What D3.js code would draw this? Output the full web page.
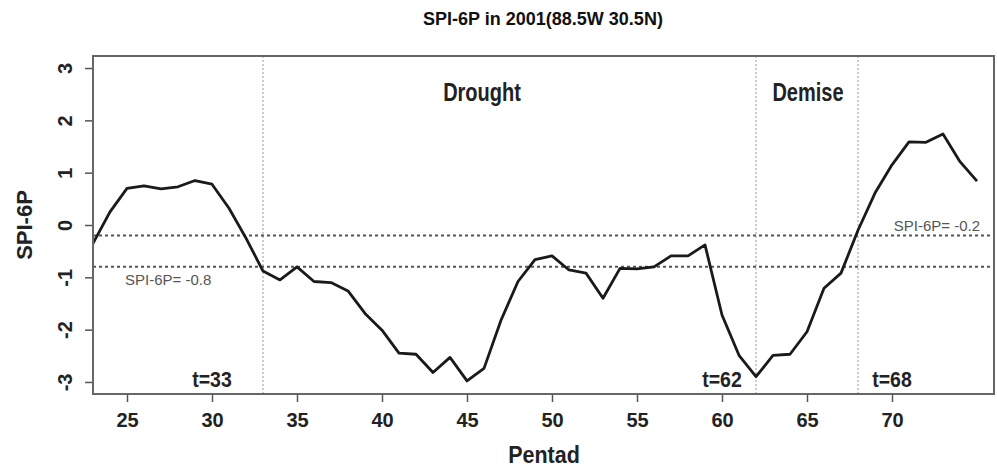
<!DOCTYPE html>
<html>
<head>
<meta charset="utf-8">
<script src="https://cdn.jsdelivr.net/npm/d3@7"></script>
<style>
  body { margin: 0; background: #fff; }
  svg { display: block; font-family: "Liberation Sans", Arial, sans-serif; }
  .tick text { font-weight: bold; font-size: 20px; fill: #222; }
  .tick line { stroke: #555; stroke-width: 1.5; }
  .domain { display: none; }
</style>
</head>
<body>
<svg width="997" height="469"></svg>
<script>
// Pentads and SPI-6P values
const pentads = d3.range(23, 76);
const spiValues = [
  -0.35, 0.25, 0.70, 0.75, 0.69, 0.73, 0.85, 0.78, 0.32, -0.25,
  -0.88, -1.05, -0.80, -1.08, -1.10, -1.26, -1.69, -2.01, -2.45, -2.47,
  -2.82, -2.53, -2.98, -2.74, -1.82, -1.08, -0.66, -0.59, -0.86, -0.92,
  -1.40, -0.83, -0.84, -0.80, -0.59, -0.59, -0.38, -1.72, -2.49, -2.90,
  -2.49, -2.47, -2.04, -1.21, -0.92, -0.10, 0.61, 1.15, 1.59, 1.58,
  1.74, 1.21, 0.84
];
const xTicks = [25, 30, 35, 40, 45, 50, 55, 60, 65, 70];
const yTicks = [-3, -2, -1, 0, 1, 2, 3];
const thresholds = [
  {value: -0.2, label: "SPI-6P= -0.2"},
  {value: -0.8, label: "SPI-6P= -0.8"}
];
const stages = [
  {t: 33, label: "t=33"},
  {t: 62, label: "t=62"},
  {t: 68, label: "t=68"}
];
const phases = [
  {from: 33, to: 62, name: "Drought"},
  {from: 62, to: 68, name: "Demise"}
];

const svg = d3.select("svg");
const plotLeft = 93, plotRight = 994, plotTop = 56, plotBottom = 394;

const x = d3.scaleLinear().domain([23, 76]).range([plotLeft, plotRight]);
const y = d3.scaleLinear().domain([-3.23, 3.23]).range([plotBottom, plotTop]);

// Title
svg.append("text")
    .attr("x", 543).attr("y", 25)
    .attr("text-anchor", "middle")
    .attr("font-weight", "bold").attr("font-size", 18)
    .attr("fill", "#111")
    .text("SPI-6P in 2001(88.5W 30.5N)");

// Axes
svg.append("g")
    .attr("transform", `translate(0,${plotBottom})`)
    .call(d3.axisBottom(x).tickValues(xTicks).tickSize(8).tickFormat(d => String(d)))
    .selectAll(".tick text").attr("y", 19);

const yAxis = svg.append("g")
    .attr("transform", `translate(${plotLeft},0)`)
    .call(d3.axisLeft(y).tickValues(yTicks).tickSize(8).tickFormat(d => String(d)));
yAxis.selectAll(".tick text")
    .attr("x", null)
    .attr("dy", null)
    .attr("text-anchor", "middle")
    .attr("transform", "translate(-21,0) rotate(-90)");

// Axis labels
svg.append("text")
    .attr("transform", "translate(544,463) scale(1,1.15)")
    .attr("text-anchor", "middle")
    .attr("font-weight", "bold").attr("font-size", 21.5)
    .attr("fill", "#222")
    .text("Pentad");

svg.append("text")
    .attr("transform", `translate(32,${y(0)}) rotate(-90)`)
    .attr("text-anchor", "middle")
    .attr("font-weight", "bold").attr("font-size", 22)
    .attr("fill", "#222")
    .text("SPI-6P");

// Stage boundaries
svg.selectAll(".vline")
    .data(stages)
    .join("line")
    .attr("class", "vline")
    .attr("x1", d => x(d.t)).attr("x2", d => x(d.t))
    .attr("y1", plotTop).attr("y2", plotBottom)
    .attr("stroke", "#999").attr("stroke-width", 1)
    .attr("stroke-dasharray", "2,2");

// Threshold lines
svg.selectAll(".hline")
    .data(thresholds)
    .join("line")
    .attr("class", "hline")
    .attr("x1", plotLeft).attr("x2", plotRight)
    .attr("y1", d => y(d.value)).attr("y2", d => y(d.value))
    .attr("stroke", "#555").attr("stroke-width", 2)
    .attr("stroke-dasharray", "3,3");

svg.append("text")
    .attr("x", 125).attr("y", y(-0.8) + 18)
    .attr("font-size", 15).attr("fill", "#555")
    .text(thresholds[1].label);

svg.append("text")
    .attr("x", 980).attr("y", y(-0.2) - 4)
    .attr("text-anchor", "end")
    .attr("font-size", 15).attr("fill", "#555")
    .text(thresholds[0].label);

// Phase names
svg.selectAll(".phase")
    .data(phases)
    .join("text")
    .attr("class", "phase")
    .attr("transform", (d, i) => `translate(${i === 0 ? 482 : 808},101) scale(1,1.3)`)
    .attr("text-anchor", "middle")
    .attr("font-weight", "bold").attr("font-size", 20)
    .attr("fill", "#222")
    .text(d => d.name);

// Stage labels (placed just beside each boundary)
const stageOffset = {33: -3, 62: -2, 68: 2};
svg.selectAll(".stage")
    .data(stages)
    .join("text")
    .attr("class", "stage")
    .attr("transform", d => `translate(${x(d.t + stageOffset[d.t])},387) scale(1,1.1)`)
    .attr("text-anchor", "middle")
    .attr("font-weight", "bold").attr("font-size", 19.5)
    .attr("fill", "#222")
    .text(d => d.label);

// SPI line
const line = d3.line()
    .x((d, i) => x(pentads[i]))
    .y(d => y(d));

svg.append("path")
    .datum(spiValues)
    .attr("d", line)
    .attr("fill", "none")
    .attr("stroke", "#1a1a1a")
    .attr("stroke-width", 2.8)
    .attr("stroke-linejoin", "round");

// Plot box
svg.append("rect")
    .attr("x", plotLeft).attr("y", plotTop)
    .attr("width", plotRight - plotLeft).attr("height", plotBottom - plotTop)
    .attr("fill", "none")
    .attr("stroke", "#666").attr("stroke-width", 2);
</script>
</body>
</html>
